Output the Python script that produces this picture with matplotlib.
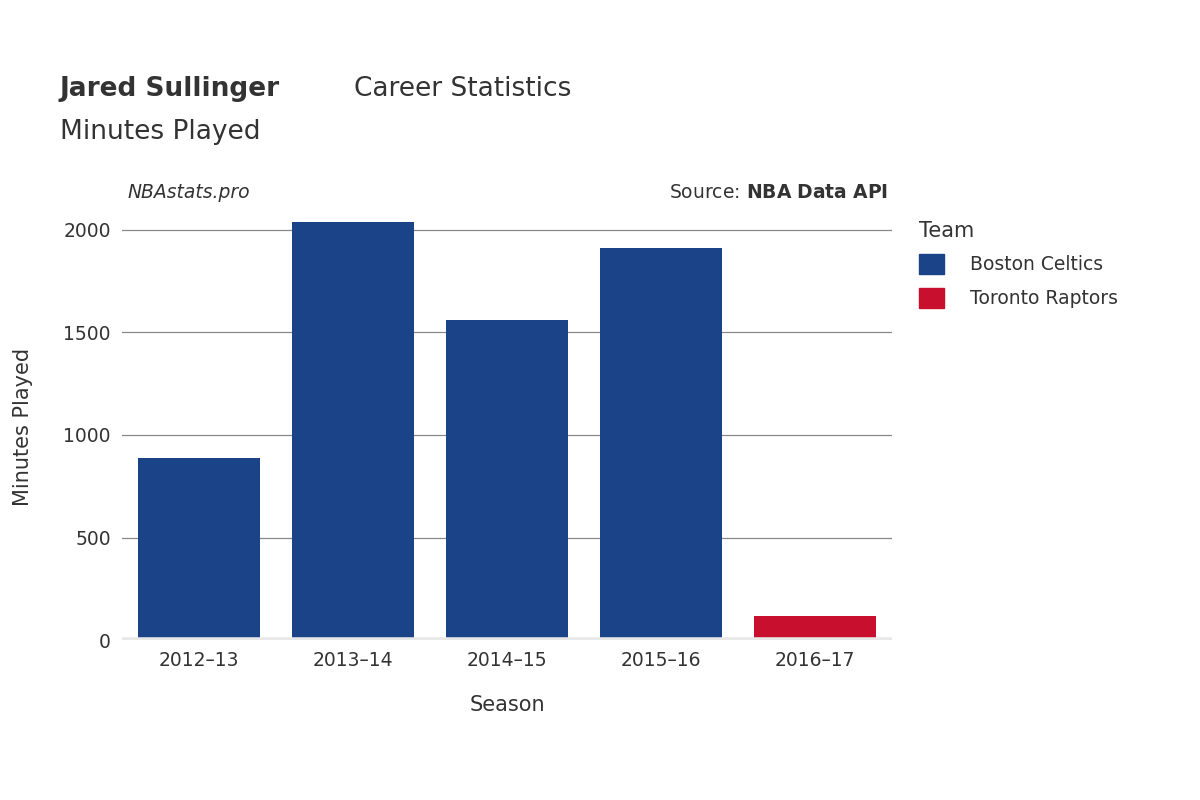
import matplotlib
matplotlib.use("Agg")
import matplotlib.pyplot as plt
from matplotlib.patches import Patch

seasons = ["2012–13", "2013–14", "2014–15", "2015–16", "2016–17"]
minutes = [889, 2039, 1561, 1912, 117]
teams = ["Boston Celtics", "Boston Celtics", "Boston Celtics", "Boston Celtics", "Toronto Raptors"]
team_colors = {"Boston Celtics": "#1b4387", "Toronto Raptors": "#c8102e"}
yticks = [0, 500, 1000, 1500, 2000]

fig = plt.figure(figsize=(12, 8), dpi=100)
ax = fig.add_axes([0.1017, 0.2, 0.6417, 0.533])
x = range(len(seasons))
ax.bar(x, minutes, width=0.79, color=[team_colors[t] for t in teams], zorder=3)
ax.set_ylim(0, 2080)
ax.set_xlim(-0.5, 4.5)
ax.set_yticks(yticks)
ax.set_xticks(list(x))
ax.set_xticklabels(seasons)
ax.grid(axis="y", color="#888888", linewidth=0.9, zorder=0)
for s in ax.spines.values():
    s.set_visible(False)
ax.axhline(0, color="#e8e8e8", linewidth=4, zorder=4)
ax.tick_params(length=0, labelsize=13.5, colors="#333333", pad=8)
ax.set_xlabel("Season", fontsize=15, color="#333333", labelpad=18)
ax.set_ylabel("Minutes Played", fontsize=15, color="#333333", labelpad=22)

fig.text(0.05, 0.889, "Jared Sullinger", fontsize=19, fontweight="bold", color="#333333", va="center")
fig.text(0.295, 0.889, "Career Statistics", fontsize=19, color="#333333", va="center")
fig.text(0.05, 0.835, "Minutes Played", fontsize=19, color="#333333", va="center")
fig.text(0.106, 0.76, "NBAstats.pro", fontsize=13.5, style="italic", color="#333333", va="center")
fig.text(0.74, 0.76, "Source: $\\bf{NBA\\ Data\\ API}$", fontsize=13.5, color="#333333", va="center", ha="right")

handles = [Patch(color=c, label=t) for t, c in team_colors.items()]
leg = fig.legend(handles=handles, loc="upper left", bbox_to_anchor=(0.752, 0.745), frameon=False,
                 title="Team", fontsize=13.5, title_fontsize=15, labelcolor="#333333",
                 handlelength=1.3, handleheight=1.3, labelspacing=0.7, handletextpad=1.4)
leg.get_title().set_color("#333333")
leg._legend_box.align = "left"
fig.savefig("out.png", dpi=100)
